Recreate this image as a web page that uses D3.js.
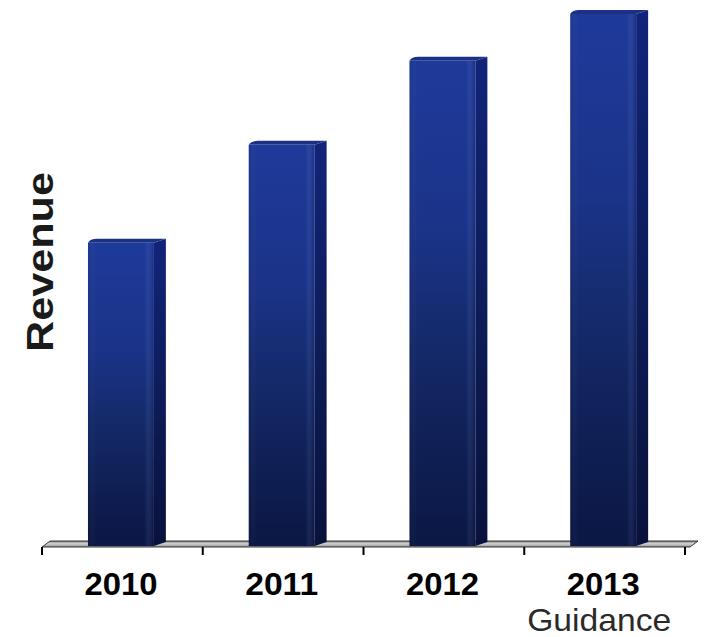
<!DOCTYPE html>
<html>
<head>
<meta charset="utf-8">
<script src="https://cdn.jsdelivr.net/npm/d3@7"></script>
<style>
  html, body { margin: 0; padding: 0; background: #fff; }
  svg { display: block; font-family: "Liberation Sans", Arial, sans-serif; }
</style>
</head>
<body>
<svg id="chart" width="704" height="637"></svg>
<script>
// ---- data ----
const years = ["2010", "2011", "2012", "2013"];
const revenue = [57, 75.4, 91.2, 100];          // relative revenue (2013 = 100)
const subLabels = ["", "", "", "Guidance"];
const axisTitle = "Revenue";

// ---- layout ----
const W = 704, H = 637;
const baseY = 546;
const depthX = 12, depthY = -4;

const svg = d3.select("#chart");
const defs = svg.append("defs");

const x = d3.scaleBand().domain(years).range([42, 685]).padding(0);
const y = d3.scaleLinear().domain([0, 100]).range([baseY, 14]);

const barOffset = x.bandwidth() * 0.286;
const barW = x.bandwidth() * 0.41;

// gradients
const gFront = defs.append("linearGradient").attr("id", "gFront")
  .attr("x1", 0).attr("y1", 0).attr("x2", 0).attr("y2", 1);
[[0, "#1e3a9a"], [0.35, "#1b3388"], [0.6, "#142968"], [0.85, "#0e1d50"], [1, "#0b1744"]]
  .forEach(([o, c]) => gFront.append("stop").attr("offset", o).attr("stop-color", c));

const gFrontH = defs.append("linearGradient").attr("id", "gFrontH")
  .attr("x1", 0).attr("y1", 0).attr("x2", 1).attr("y2", 0);
[[0, "rgba(0,0,0,0.08)"], [0.12, "rgba(255,255,255,0)"], [0.86, "rgba(255,255,255,0)"], [0.93, "rgba(110,130,220,0.12)"], [1, "rgba(0,0,0,0.2)"]]
  .forEach(([o, c]) => gFrontH.append("stop").attr("offset", o).attr("stop-color", c));

const gSide = defs.append("linearGradient").attr("id", "gSide")
  .attr("x1", 0).attr("y1", 0).attr("x2", 0).attr("y2", 1);
[[0, "#11247a"], [0.5, "#0d1c5a"], [1, "#09123c"]]
  .forEach(([o, c]) => gSide.append("stop").attr("offset", o).attr("stop-color", c));

const gFloor = defs.append("linearGradient").attr("id", "gFloor")
  .attr("x1", 0).attr("y1", 0).attr("x2", 0).attr("y2", 1);
[[0, "#666"], [0.35, "#d0d0d0"], [0.7, "#bbb"], [1, "#777"]]
  .forEach(([o, c]) => gFloor.append("stop").attr("offset", o).attr("stop-color", c));

// ---- floor ----
const fx0 = x.range()[0], fx1 = x.range()[1];
svg.append("path")
  .attr("d", `M${fx0},${baseY + 1} L${fx0 + 8},${baseY - 5} L${fx1 + 13},${baseY - 5} L${fx1 + 5},${baseY + 1} Z`)
  .attr("fill", "url(#gFloor)")
  .attr("stroke", "#3a3a3a").attr("stroke-width", 1);

// ticks
const tickPos = years.map(d => x(d)).concat([fx1]);
svg.selectAll("line.tick").data(tickPos).enter().append("line")
  .attr("class", "tick")
  .attr("x1", d => d).attr("x2", d => d)
  .attr("y1", baseY + 1).attr("y2", baseY + 9)
  .attr("stroke", "#000").attr("stroke-width", 2);

// ---- bars ----
const bars = svg.selectAll("g.bar").data(years.map((d, i) => ({ year: d, v: revenue[i] })))
  .enter().append("g").attr("class", "bar");

bars.each(function (d) {
  const g = d3.select(this);
  const x0 = x(d.year) + barOffset;
  const x1 = x0 + barW;
  const yt = y(d.v);
  const yb = y(0);
  // side face
  g.append("path")
    .attr("d", `M${x1},${yt} L${x1 + depthX},${yt + depthY} L${x1 + depthX},${yb + depthY} L${x1},${yb} Z`)
    .attr("fill", "url(#gSide)");
  // top face
  g.append("path")
    .attr("d", `M${x0},${yt} Q${x0 + 2},${yt + depthY} ${x0 + depthX - 3},${yt + depthY} L${x1 + depthX},${yt + depthY} L${x1},${yt} Z`)
    .attr("fill", "#1b3186");
  // front face
  g.append("rect")
    .attr("x", x0).attr("y", yt).attr("width", barW).attr("height", yb - yt)
    .attr("fill", "url(#gFront)");
  g.append("rect")
    .attr("x", x0).attr("y", yt).attr("width", barW).attr("height", yb - yt)
    .attr("fill", "url(#gFrontH)");
});

// ---- labels ----
svg.selectAll("text.year").data(years).enter().append("text")
  .attr("class", "year")
  .attr("x", d => x(d) + barOffset + barW / 2)
  .attr("y", 595)
  .attr("text-anchor", "middle")
  .attr("font-size", 31).attr("font-weight", "bold").attr("fill", "#000")
  .attr("textLength", 73).attr("lengthAdjust", "spacingAndGlyphs")
  .text(d => d);

svg.selectAll("text.sub").data(years.map((d, i) => ({ year: d, s: subLabels[i] })).filter(d => d.s))
  .enter().append("text")
  .attr("class", "sub")
  .attr("x", d => x(d.year) + barOffset + barW / 2 - 4)
  .attr("y", 631)
  .attr("text-anchor", "middle")
  .attr("font-size", 32).attr("fill", "#2a2a2a")
  .attr("textLength", 144).attr("lengthAdjust", "spacingAndGlyphs")
  .text(d => d.s);

svg.append("text")
  .attr("transform", `translate(53,262) rotate(-90)`)
  .attr("text-anchor", "middle")
  .attr("font-size", 36).attr("font-weight", "bold").attr("fill", "#1a1a1a")
  .attr("textLength", 180).attr("lengthAdjust", "spacingAndGlyphs")
  .text(axisTitle);
</script>
</body>
</html>
